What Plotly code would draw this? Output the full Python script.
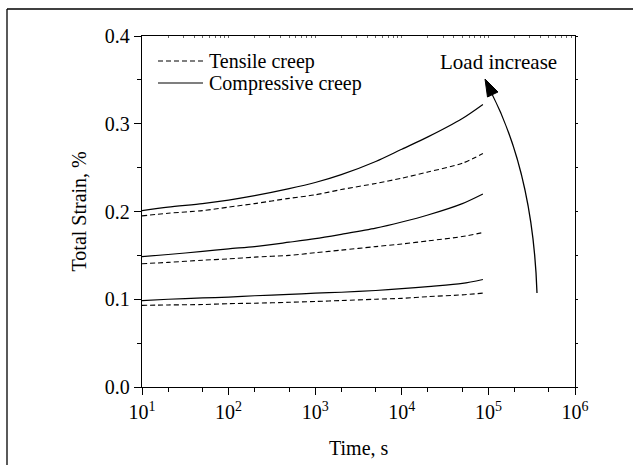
import plotly.graph_objects as go

# ---- data ----
time_s = [10, 20, 50, 100, 200, 500, 1000, 2000, 5000, 10000, 20000, 50000, 86400]

tensile_low = [0.093, 0.0935, 0.094, 0.095, 0.0955, 0.0965, 0.0975, 0.0985, 0.100, 0.101, 0.103, 0.105, 0.107]
tensile_mid = [0.1405, 0.142, 0.1445, 0.146, 0.148, 0.150, 0.153, 0.156, 0.160, 0.163, 0.1665, 0.1715, 0.176]
tensile_high = [0.195, 0.198, 0.201, 0.205, 0.209, 0.215, 0.219, 0.225, 0.232, 0.238, 0.245, 0.255, 0.266]

compressive_low = [0.0985, 0.100, 0.1015, 0.1025, 0.104, 0.1055, 0.107, 0.108, 0.110, 0.112, 0.1145, 0.118, 0.1225]
compressive_mid = [0.1485, 0.151, 0.1545, 0.1575, 0.160, 0.165, 0.169, 0.174, 0.181, 0.188, 0.196, 0.209, 0.220]
compressive_high = [0.201, 0.205, 0.209, 0.213, 0.218, 0.226, 0.233, 0.242, 0.257, 0.271, 0.285, 0.306, 0.322]

x_tickvals = [1e1, 1e2, 1e3, 1e4, 1e5, 1e6]
x_ticktext = ["10<sup>1</sup>", "10<sup>2</sup>", "10<sup>3</sup>",
              "10<sup>4</sup>", "10<sup>5</sup>", "10<sup>6</sup>"]

legend_labels = ["Tensile creep", "Compressive creep"]
x_title = "Time, s"
y_title = "Total Strain, %"
note_text = "Load increase"

FONT = "Liberation Serif, Times New Roman, serif"
DASH = "5px,3px"

fig = go.Figure()
for ys in (tensile_low, tensile_mid, tensile_high):
    fig.add_trace(go.Scatter(x=time_s, y=ys, mode="lines", showlegend=False,
                             line=dict(color="black", width=1.1, dash=DASH, shape="spline",
                                       smoothing=0.8)))
for ys in (compressive_low, compressive_mid, compressive_high):
    fig.add_trace(go.Scatter(x=time_s, y=ys, mode="lines", showlegend=False,
                             line=dict(color="black", width=1.2, shape="spline",
                                       smoothing=0.8)))

# Mirror axes (top/right)
fig.add_trace(go.Scatter(x=[None], y=[None], xaxis="x2", yaxis="y2", showlegend=False))

W, H = 633, 465
L, R, T, B = 142, 58, 36, 78
pw, ph = W - L - R, H - T - B

def px(xp):
    return (xp - L) / pw

def py(yp):
    return (H - B - yp) / ph

fig.update_layout(
    width=W, height=H,
    margin=dict(l=L, r=R, t=T, b=B, pad=0),
    paper_bgcolor="white", plot_bgcolor="white",
    font=dict(family=FONT, size=20, color="black"),
    xaxis=dict(type="log", range=[1, 6], showgrid=False, zeroline=False,
               showline=True, linecolor="black", linewidth=1.3,
               ticks="outside", ticklen=7, tickwidth=1.2, tickcolor="black",
               tickmode="array", tickvals=x_tickvals, ticktext=x_ticktext,
               minor=dict(ticks="outside", ticklen=4, tickwidth=1, tickcolor="black",
                          dtick="D2", showgrid=False),
               tickfont=dict(size=20, family=FONT)),
    yaxis=dict(range=[0, 0.4], showgrid=False, zeroline=False,
               showline=True, linecolor="black", linewidth=1.3,
               ticks="outside", ticklen=7, tickwidth=1.2, tickcolor="black",
               dtick=0.1, tickformat=".1f",
               minor=dict(ticks="outside", ticklen=4, tickwidth=1, tickcolor="black",
                          dtick=0.05, showgrid=False),
               tickfont=dict(size=20, family=FONT)),
    xaxis2=dict(type="log", range=[1, 6], overlaying="x", side="top",
                showgrid=False, zeroline=False, showline=True, linecolor="black",
                linewidth=1.3, ticks="inside", ticklen=2, tickwidth=0.8,
                tickcolor="#666", dtick="D1", showticklabels=False),
    yaxis2=dict(range=[0, 0.4], overlaying="y", side="right",
                showgrid=False, zeroline=False, showline=True, linecolor="black",
                linewidth=1.3, ticks="outside", ticklen=2, tickwidth=1,
                tickcolor="black", dtick=0.05, showticklabels=False),
    showlegend=False,
)

annotations = [
    dict(text=y_title, x=px(78), y=0.5, xref="paper", yref="paper", textangle=-90,
         showarrow=False, xanchor="center", yanchor="middle",
         font=dict(size=20, family=FONT)),
    dict(text=x_title, x=px(358.5), y=py(448), xref="paper", yref="paper",
         showarrow=False, xanchor="center", yanchor="middle",
         font=dict(size=20, family=FONT)),
    dict(text=legend_labels[0], x=px(207), y=py(61), xref="paper", yref="paper",
         showarrow=False, xanchor="left", yanchor="middle",
         font=dict(size=20, family=FONT)),
    dict(text=legend_labels[1], x=px(207), y=py(84), xref="paper", yref="paper",
         showarrow=False, xanchor="left", yanchor="middle",
         font=dict(size=20, family=FONT)),
    dict(text=note_text, x=px(498.5), y=py(62), xref="paper", yref="paper",
         showarrow=False, xanchor="center", yanchor="middle",
         font=dict(size=21, family=FONT)),
]
fig.update_layout(annotations=annotations)

def P(x, y):
    return f"{px(x):.5f},{py(y):.5f}"

shapes = [
    # legend samples
    dict(type="line", xref="paper", yref="paper", x0=px(158), x1=px(203), y0=py(61), y1=py(61),
         line=dict(color="black", width=1.1, dash=DASH)),
    dict(type="line", xref="paper", yref="paper", x0=px(158), x1=px(203), y0=py(83), y1=py(83),
         line=dict(color="black", width=1.2)),
    # curved "load increase" arrow
    dict(type="path", xref="paper", yref="paper",
         path=f"M {P(537, 293)} Q {P(533, 173.5)} {P(490.5, 91)}",
         line=dict(color="black", width=1.3)),
    dict(type="path", xref="paper", yref="paper",
         path=f"M {P(485, 79)} L {P(498, 92)} L {P(487.5, 97)} Z",
         line=dict(color="black", width=1), fillcolor="black"),
    # outer frame (left and top)
    dict(type="line", xref="paper", yref="paper", x0=px(7), x1=px(7), y0=py(9), y1=py(465),
         line=dict(color="black", width=1.3)),
    dict(type="line", xref="paper", yref="paper", x0=px(7), x1=px(633), y0=py(9), y1=py(9),
         line=dict(color="black", width=1.3)),
]
fig.update_layout(shapes=shapes)

fig.write_html("out.html")
